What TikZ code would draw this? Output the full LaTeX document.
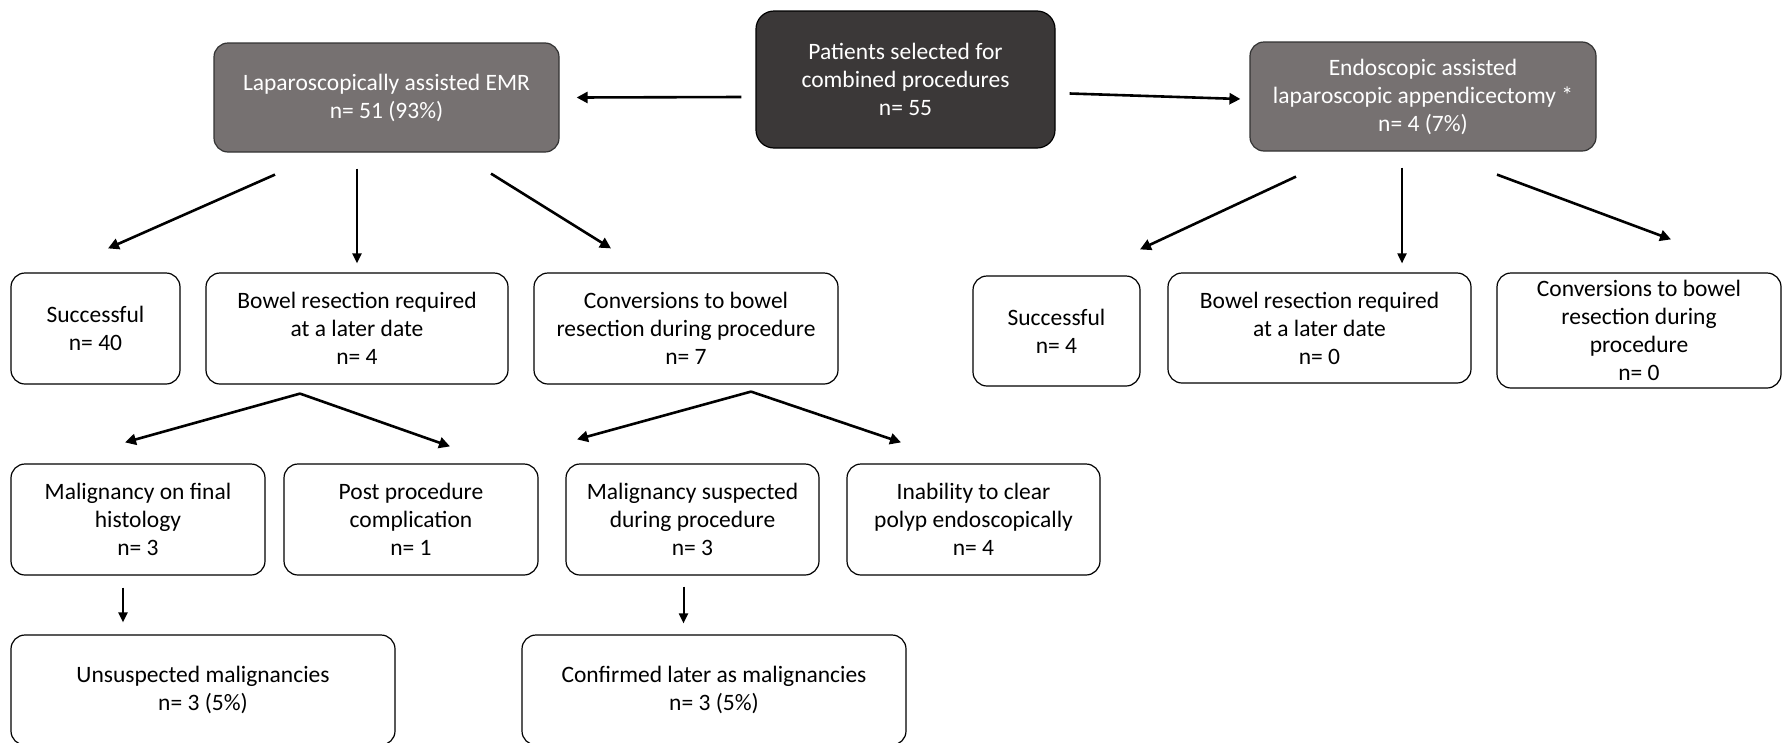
\documentclass[tikz,border=0pt]{standalone}
\usepackage{fontspec}
\setmainfont{Carlito}
\usepackage{tikz}
\usetikzlibrary{arrows.meta, calc}
\definecolor{cDark}{RGB}{59,56,56}
\definecolor{cGrey}{RGB}{118,113,113}
\tikzset{
	outbox/.style ={rectangle, rounded corners=14pt, draw=black, line width=1.2pt, align=center, inner sep=0pt, fill=white},
	armbox/.style ={outbox, fill=cGrey, text=white, draw=black!80},
	topbox/.style ={outbox, fill=cDark, text=white, rounded corners=18pt},
	flowarr/.style={-{Triangle[length=11pt, width=11pt]}, line width=2.6pt},
	downarr/.style={-{Triangle[length=10pt, width=9pt]}, line width=2pt},
}
\begin{document}
\begin{tikzpicture}[x=1pt, y=-1pt, font=\fontsize{23.5}{28}\selectfont]
			\useasboundingbox (0,0) rectangle (1782,742);
			% top row
			\node[topbox, minimum width=299pt, minimum height=137pt] (pat) at (905.5,79.5) {Patients selected for\\combined procedures\\n= 55};
			\node[armbox, minimum width=345pt, minimum height=109pt] (lap) at (386.5,97.5) {Laparoscopically assisted EMR\\n= 51 (93\%)};
			\node[armbox, minimum width=346pt, minimum height=109pt] (endo) at (1423,96.5) {Endoscopic assisted\\laparoscopic appendicectomy *\\n= 4 (7\%)};
			% outcomes
			\node[outbox, minimum width=169pt, minimum height=111pt] (suc1) at (95.5,328.5) {Successful\\n= 40};
			\node[outbox, minimum width=302pt, minimum height=111pt] (bow1) at (357,328.5) {Bowel resection required\\at a later date\\n= 4};
			\node[outbox, minimum width=304pt, minimum height=111pt] (con1) at (686,328.5) {Conversions to bowel\\resection during procedure\\n= 7};
			\node[outbox, minimum width=167pt, minimum height=110pt] (suc2) at (1056.5,331) {Successful\\n= 4};
			\node[outbox, minimum width=303pt, minimum height=110pt] (bow2) at (1319.5,328) {Bowel resection required\\at a later date\\n= 0};
			\node[outbox, minimum width=284pt, minimum height=115pt] (con2) at (1639,330.5) {Conversions to bowel\\resection during\\procedure\\n= 0};
			% reasons
			\node[outbox, minimum width=254pt, minimum height=111pt] (mal1) at (138,519.5) {Malignancy on final\\histology\\n= 3};
			\node[outbox, minimum width=254pt, minimum height=111pt] (post) at (411,519.5) {Post procedure\\complication\\n= 1};
			\node[outbox, minimum width=253pt, minimum height=111pt] (mal2) at (692.5,519.5) {Malignancy suspected\\during procedure\\n= 3};
			\node[outbox, minimum width=253pt, minimum height=111pt] (inab) at (973.5,519.5) {Inability to clear\\polyp endoscopically\\n= 4};
			% malignancies
			\node[outbox, minimum width=384pt, minimum height=110pt] (uns) at (203,690) {Unsuspected malignancies\\n= 3 (5\%)};
			\node[outbox, minimum width=384pt, minimum height=110pt] (conf) at (714,690) {Confirmed later as malignancies\\n= 3 (5\%)};
			% arrows
			\draw[flowarr] ([xshift=-14pt, yshift=-17.5pt]pat.west) -- ([xshift=17pt]lap.east);
			\draw[flowarr] ([xshift=14pt, yshift=-14pt]pat.east) -- ([xshift=-9pt, yshift=-2.5pt]endo.west);
			\draw[flowarr] ([xshift=-111.5pt, yshift=-22pt]lap.south) -- ([xshift=12.5pt, yshift=24pt]suc1.north);
			\draw[downarr] ([xshift=-29.5pt, yshift=-16pt]lap.south) -- ([yshift=9pt]bow1.north);
			\draw[flowarr] ([xshift=104.5pt, yshift=-21pt]lap.south) -- ([xshift=-75pt, yshift=24pt]con1.north);
			\draw[flowarr] ([xshift=-127pt, yshift=-25pt]endo.south) -- ([xshift=83.5pt, yshift=26pt]suc2.north);
			\draw[downarr] ([xshift=-21pt, yshift=-16pt]endo.south) -- ([xshift=82.5pt, yshift=9pt]bow2.north);
			\draw[flowarr] ([xshift=74pt, yshift=-23pt]endo.south) -- ([xshift=32pt, yshift=33pt]con2.north);
			\draw[flowarr] ([xshift=-57pt, yshift=-9pt]bow1.south) -- ([xshift=-13pt, yshift=21pt]mal1.north);
			\draw[flowarr] ([xshift=-57pt, yshift=-9pt]bow1.south) -- ([xshift=39pt, yshift=17pt]post.north);
			\draw[flowarr] ([xshift=65pt, yshift=-7pt]con1.south) -- ([xshift=-115.5pt, yshift=24pt]mal2.north);
			\draw[flowarr] ([xshift=65pt, yshift=-7pt]con1.south) -- ([xshift=-72.5pt, yshift=21pt]inab.north);
			\draw[downarr] ([xshift=-15pt, yshift=-12pt]mal1.south) -- ([xshift=-80pt, yshift=12pt]uns.north);
			\draw[downarr] ([xshift=-9pt, yshift=-11pt]mal2.south) -- ([xshift=-30.5pt, yshift=11pt]conf.north);
		\end{tikzpicture}
\end{document}
